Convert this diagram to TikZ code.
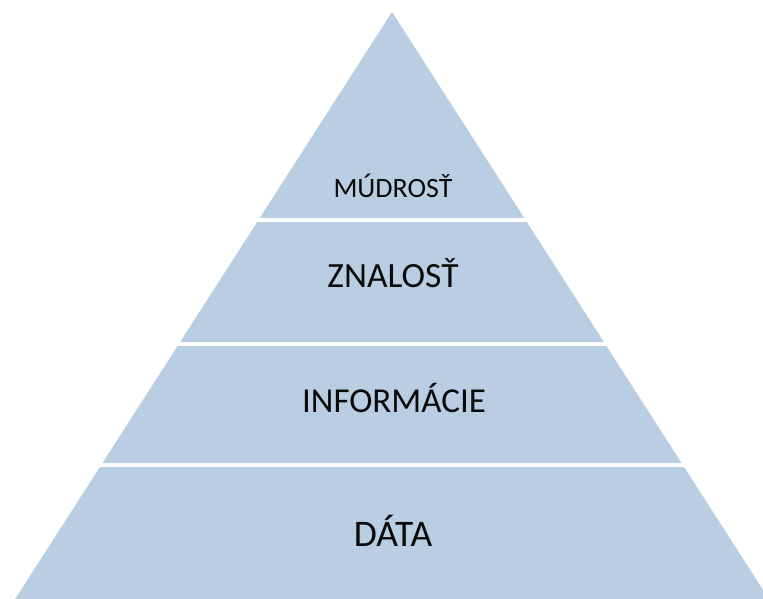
\documentclass[tikz,border=0pt]{standalone}
\usepackage{fontspec}
\setmainfont{Carlito}
\definecolor{tierblue}{HTML}{B9CDE3}
\definecolor{tiertext}{HTML}{0A0A0A}
\begin{document}
\begin{tikzpicture}[x=1pt,y=-1pt,
  tier/.style={fill=tierblue,draw=none},
  lbl/.style={text=tiertext,anchor=base,inner sep=0pt}]
\useasboundingbox (0,0) rectangle (763,598);
\clip (0,0) rectangle (763,598);
\def\ax{392}\def\ay{12}\def\k{0.642}
% tiers: top y, bottom y
\fill[tier] (\ax,\ay) -- ({\ax+\k*(218-\ay)},218) -- ({\ax-\k*(218-\ay)},218) -- cycle;
\foreach \t/\b in {222/342,346/463,467/600}{
  \fill[tier] ({\ax-\k*(\t-\ay)},\t) -- ({\ax+\k*(\t-\ay)},\t) -- ({\ax+\k*(\b-\ay)},\b) -- ({\ax-\k*(\b-\ay)},\b) -- cycle;
}
\node[lbl,font=\fontsize{28}{32}\selectfont] (mudrost) at (393,197) {MÚDROSŤ};
\node[lbl,font=\fontsize{35.5}{40}\selectfont] (znalost) at (393,287) {ZNALOSŤ};
\node[lbl,font=\fontsize{35}{40}\selectfont] (informacie) at (394,412) {INFORMÁCIE};
\node[lbl,font=\fontsize{37.5}{42}\selectfont] (data) at (393,546) {DÁTA};
\end{tikzpicture}
\end{document}
